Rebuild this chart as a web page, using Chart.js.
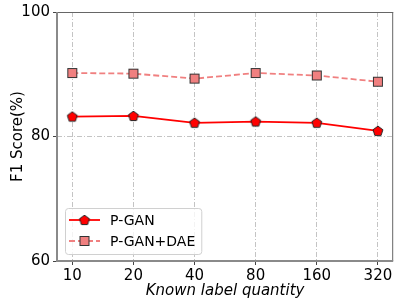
<!DOCTYPE html>
<html>
<head>
<meta charset="utf-8">
<script src="https://cdn.jsdelivr.net/npm/chart.js@4.4.0/dist/chart.umd.min.js"></script>
<style>
  html, body { margin: 0; padding: 0; background: #fff; }
</style>
</head>
<body>
<canvas id="grafik" width="399" height="306"></canvas>
<script>
// Data
const kategori = ['10', '20', '40', '80', '160', '320'];
const nilaiPgan = [83.2, 83.3, 82.2, 82.4, 82.2, 80.9];
const nilaiPganDae = [90.2, 90.1, 89.3, 90.2, 89.8, 88.8];
const tickY = [60, 80, 100];

Chart.defaults.font.family = "'DejaVu Sans', sans-serif";
Chart.defaults.color = '#000';

// Marker buatan sendiri (pentagon dan kotak)
function buatPentagon(r, isi, garis) {
  const s = Math.ceil(r * 2 + 3);
  const c = document.createElement('canvas');
  c.width = s; c.height = s;
  const g = c.getContext('2d');
  g.beginPath();
  for (let k = 0; k < 5; k++) {
    const a = -Math.PI / 2 + k * 2 * Math.PI / 5;
    const px = s / 2 + r * Math.cos(a), py = s / 2 + r * Math.sin(a) + 0.4;
    k === 0 ? g.moveTo(px, py) : g.lineTo(px, py);
  }
  g.closePath();
  g.fillStyle = isi; g.fill();
  g.lineWidth = 1; g.strokeStyle = garis; g.stroke();
  return c;
}

function buatKotak(sisi, isi, garis) {
  const s = Math.ceil(sisi + 3);
  const c = document.createElement('canvas');
  c.width = s; c.height = s;
  const g = c.getContext('2d');
  const o = (s - sisi) / 2;
  g.fillStyle = isi; g.fillRect(o, o, sisi, sisi);
  g.lineWidth = 1; g.strokeStyle = garis; g.strokeRect(o, o, sisi, sisi);
  return c;
}

const markerPgan = buatPentagon(5.2, '#ff0000', '#222');
const markerDae = buatKotak(9, '#f08080', '#333');

// Plugin garis tepi (spine)
const pluginTepi = {
  id: 'tepi',
  afterDraw(chart) {
    const { ctx, chartArea: a } = chart;
    ctx.save();
    ctx.strokeStyle = '#666'; ctx.lineWidth = 1;
    ctx.beginPath();
    ctx.moveTo(a.left, a.top + 0.5); ctx.lineTo(a.right, a.top + 0.5);
    ctx.moveTo(a.right - 0.5, a.top); ctx.lineTo(a.right - 0.5, a.bottom);
    ctx.stroke();
    ctx.strokeStyle = '#8a8a8a'; ctx.lineWidth = 2;
    ctx.beginPath();
    ctx.moveTo(a.left, a.top); ctx.lineTo(a.left, a.bottom + 1);
    ctx.moveTo(a.left - 1, a.bottom); ctx.lineTo(a.right, a.bottom);
    ctx.stroke();
    ctx.restore();
  }
};

// Plugin legenda di dalam area grafik
const pluginLegenda = {
  id: 'legendaDalam',
  afterDraw(chart) {
    const { ctx, chartArea: a } = chart;
    const sets = chart.data.datasets;
    ctx.save();
    ctx.font = "14px 'DejaVu Sans'";
    const lebarTeks = Math.max(...sets.map(d => ctx.measureText(d.label).width));
    const w = 45 + lebarTeks + 6, h = 46;
    const x0 = a.left + 8, y0 = a.bottom - 7 - h;
    ctx.fillStyle = 'rgba(255,255,255,0.8)';
    ctx.strokeStyle = '#d0d0d0'; ctx.lineWidth = 1;
    ctx.beginPath();
    ctx.roundRect(x0 + 0.5, y0 + 0.5, w, h, 3);
    ctx.fill(); ctx.stroke();
    sets.forEach((d, i) => {
      const yy = y0 + 12 + i * 21;
      ctx.strokeStyle = d.borderColor; ctx.lineWidth = d.borderWidth;
      ctx.setLineDash(d.borderDash || []);
      ctx.beginPath();
      ctx.moveTo(x0 + 4, yy); ctx.lineTo(x0 + 35, yy);
      ctx.stroke();
      ctx.setLineDash([]);
      const m = d.pointStyle;
      ctx.drawImage(m, x0 + 19.5 - m.width / 2, yy - m.height / 2);
      ctx.fillStyle = '#000';
      ctx.textBaseline = 'middle';
      ctx.fillText(d.label, x0 + 45, yy + 1);
    });
    ctx.restore();
  }
};

const ctx = document.getElementById('grafik').getContext('2d');
const grafik = new Chart(ctx, {
  type: 'line',
  data: {
    datasets: [{
      label: 'P-GAN',
      data: nilaiPgan.map((v, i) => ({ x: i, y: v })),
      borderColor: '#ff0000',
      borderWidth: 1.8,
      pointStyle: markerPgan,
      fill: false
    }, {
      label: 'P-GAN+DAE',
      data: nilaiPganDae.map((v, i) => ({ x: i, y: v })),
      borderColor: '#f08080',
      borderWidth: 1.8,
      borderDash: [6, 3],
      pointStyle: markerDae,
      fill: false
    }]
  },
  options: {
    responsive: false,
    animation: false,
    devicePixelRatio: 1,
    layout: { padding: { left: 0, right: 5, top: 11, bottom: 0 } },
    plugins: { legend: { display: false }, tooltip: { enabled: false } },
    scales: {
      x: {
        type: 'linear',
        min: -0.25,
        max: 5.25,
        afterBuildTicks: s => { s.ticks = kategori.map((_, i) => ({ value: i })); },
        afterFit: s => { s.height = 45; },
        ticks: {
          callback: v => kategori[v],
          font: { size: 15 },
          padding: 2,
          maxRotation: 0,
          autoSkip: false
        },
        grid: {
          color: '#c4c4c4',
          lineWidth: 1,
          tickLength: 4,
          tickColor: '#444',
          tickBorderDash: []
        },
        border: { display: false, dash: [5, 2, 1, 2] },
        title: {
          display: true,
          text: 'Known label quantity',
          font: { size: 15, style: 'italic' },
          padding: { top: 0, bottom: 6 }
        }
      },
      y: {
        type: 'linear',
        min: 60,
        max: 100,
        afterBuildTicks: s => { s.ticks = tickY.map(v => ({ value: v })); },
        afterFit: s => { s.width = 57; },
        ticks: { font: { size: 15 }, padding: 3 },
        grid: {
          color: '#c4c4c4',
          lineWidth: 1,
          tickLength: 4,
          tickColor: '#444',
          tickBorderDash: []
        },
        border: { display: false, dash: [5, 2, 1, 2] },
        title: {
          display: true,
          text: 'F1 Score(%)',
          font: { size: 15 },
          padding: { top: 9, bottom: 0 }
        }
      }
    }
  },
  plugins: [pluginTepi, pluginLegenda]
});
</script>
</body>
</html>
